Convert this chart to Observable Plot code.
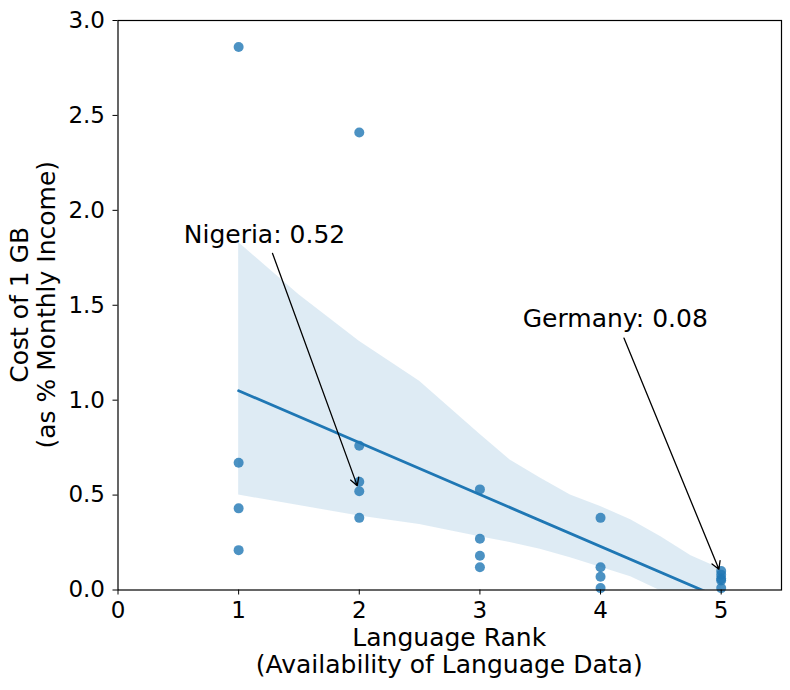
<!DOCTYPE html>
<html>
<head>
<meta charset="utf-8">
<script src="https://cdn.jsdelivr.net/npm/d3@7"></script>
<script src="https://cdn.jsdelivr.net/npm/@observablehq/plot@0.6"></script>
<style>
  html, body { margin: 0; padding: 0; background: #fff; }
  #chart svg { display: block; }
</style>
</head>
<body>
<div id="chart"></div>
<script>
// Data points: language rank vs cost of 1GB (% monthly income)
const rank = [1, 1, 1, 1, 2, 2, 2, 2, 2, 3, 3, 3, 3, 4, 4, 4, 4, 5, 5, 5, 5, 5];
const cost = [2.86, 0.67, 0.43, 0.21, 2.41, 0.76, 0.57, 0.52, 0.38, 0.53, 0.27, 0.18, 0.12, 0.38, 0.12, 0.07, 0.01, 0.10, 0.08, 0.06, 0.05, 0.01];

// Bootstrap confidence band
const bandX    = [1, 1.5, 2, 2.5, 3, 3.25, 3.5, 3.75, 4, 4.25, 4.5, 4.75, 5];
const bandLow  = [0.50, 0.445, 0.39, 0.345, 0.28, 0.25, 0.215, 0.17, 0.12, 0.07, -0.005, -0.2, -0.4];
const bandHigh = [1.83, 1.555, 1.31, 1.10, 0.82, 0.685, 0.59, 0.50, 0.44, 0.37, 0.28, 0.18, 0.11];

// Tick labels
const xTicks = [0, 1, 2, 3, 4, 5];
const yTicks = [0, 0.5, 1, 1.5, 2, 2.5, 3];

// Annotations
const annoLabels = ["Nigeria: 0.52", "Germany: 0.08"];
const annoTextX = [0.545, 3.355];
const annoTextY = [1.871, 1.427];
const arrowFromX = [1.281, 4.194];
const arrowFromY = [1.773, 1.327];
const arrowToX = [2, 5];
const arrowToY = [0.52, 0.08];

const xLabel = ["Language Rank", "(Availability of Language Data)"];
const yLabel = ["Cost of 1 GB", "(as % Monthly Income)"];

const points = rank.map((r, i) => ({x: r, y: cost[i]}));
const band = bandX.map((x, i) => ({x, lo: bandLow[i], hi: bandHigh[i]}));
const annos = annoLabels.map((t, i) => ({
  t, tx: annoTextX[i], ty: annoTextY[i],
  x1: arrowFromX[i], y1: arrowFromY[i], x2: arrowToX[i], y2: arrowToY[i]
}));

const W = 790, H = 690;
const mL = 117.5, mR = 9, mT = 20, mB = 100.5;
const blue = "#1f77b4";
const FONT = "DejaVu Sans, sans-serif";

const plot = Plot.plot({
  width: W,
  height: H,
  marginLeft: mL,
  marginRight: mR,
  marginTop: mT,
  marginBottom: mB,
  style: {fontFamily: FONT, fontSize: "23px", color: "#000", background: "#fff"},
  x: {domain: [0, 5.5]},
  y: {domain: [0, 3]},
  marks: [
    Plot.areaY(band, {x: "x", y1: "lo", y2: "hi", fill: blue, fillOpacity: 0.15, clip: true}),
    Plot.dot(points, {x: "x", y: "y", r: 5, fill: blue, fillOpacity: 0.8, stroke: "none"}),
    Plot.linearRegressionY(points, {x: "x", y: "y", ci: 0, stroke: blue, strokeWidth: 2.8, clip: true}),
    Plot.arrow(annos, {x1: "x1", y1: "y1", x2: "x2", y2: "y2", stroke: "#000", strokeWidth: 1.3, headLength: 10, insetEnd: 6, bend: 0}),
    Plot.text(annos, {x: "tx", y: "ty", text: "t", textAnchor: "start", lineAnchor: "middle", fontSize: 25, fill: "#000"}),
    Plot.axisX({ticks: xTicks, tickSize: 5, tickPadding: 7, fontSize: 23, label: null, tickFormat: d3.format("d")}),
    Plot.axisY({ticks: yTicks, tickSize: 5, tickPadding: 8, fontSize: 23, label: null, tickFormat: d3.format(".1f")}),
    Plot.frame({stroke: "#000", strokeWidth: 1.2})
  ]
});

document.getElementById("chart").appendChild(plot);

// Axis titles (two lines each)
const svg = d3.select(plot);
const cx = (mL + (W - mR)) / 2;
const cy = (mT + (H - mB)) / 2;
const xl = svg.append("text")
  .attr("text-anchor", "middle")
  .attr("font-family", FONT)
  .attr("font-size", 25)
  .attr("fill", "#000");
xl.append("tspan").attr("x", cx).attr("y", 646).text(xLabel[0]);
xl.append("tspan").attr("x", cx).attr("y", 673).text(xLabel[1]);

[27.5, 55].forEach((bx, i) => {
  svg.append("text")
    .attr("transform", `translate(${bx},${cy}) rotate(-90)`)
    .attr("text-anchor", "middle")
    .attr("font-family", FONT)
    .attr("font-size", 25)
    .attr("fill", "#000")
    .text(yLabel[i]);
});
</script>
</body>
</html>
